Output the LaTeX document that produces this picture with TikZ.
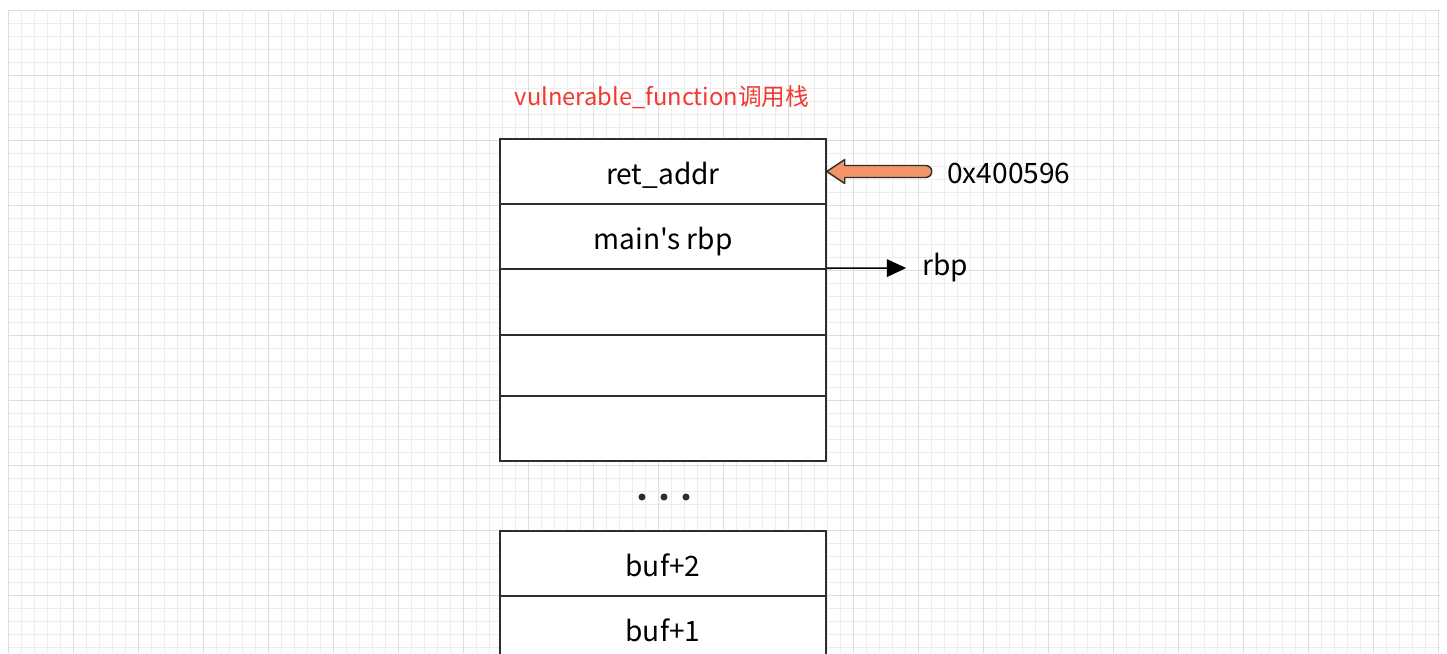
\documentclass[tikz,border=0pt]{standalone}
\usepackage{fontspec}
\setmainfont{Noto Sans CJK SC}[Ligatures=TeXOff]
\usepackage{tikz}
\usetikzlibrary{arrows.meta}

\definecolor{titlered}{RGB}{240,58,48}
\definecolor{fatorange}{RGB}{242,148,105}
\definecolor{framegray}{RGB}{45,45,45}
\definecolor{minorgrid}{RGB}{237,237,237}
\definecolor{majorgrid}{RGB}{222,222,222}

\tikzset{
	cell/.style={rectangle, draw=framegray, fill=white, line width=0.9pt,
		minimum width=6.52cm, inner sep=0pt, text height=17pt, text depth=1.7pt,
		font=\fontsize{16}{19}\selectfont},
	lbl/.style={anchor=west, inner sep=0pt, font=\fontsize{16}{19}\selectfont},
}

\begin{document}
\begin{tikzpicture}[x=0.02cm, y=-0.02cm]
	\useasboundingbox (0,0) rectangle (1447,653);
	\clip (0,0) rectangle (1447,653);
	% grille de fond
	\foreach \i in {0,...,110} {\draw[minorgrid, line width=0.45pt] (8+13*\i,10) -- (8+13*\i,653);}
	\foreach \j in {0,...,49} {\draw[minorgrid, line width=0.45pt] (8,10+13*\j) -- (1440,10+13*\j);}
	\foreach \i in {0,...,22} {\draw[majorgrid, line width=0.5pt] (8+65*\i,10) -- (8+65*\i,653);}
	\foreach \j in {0,...,9} {\draw[majorgrid, line width=0.5pt] (8,10+65*\j) -- (1440,10+65*\j);}

	% titre
	\node (titre) at (662,97) [text=titlered, font=\fontsize{13.5}{16}\selectfont] {vulnerable\_function调用栈};

	% pile du haut
	\node (c1) at (663,171.5) [cell, minimum height=1.3cm] {ret\_addr};
	\node (c2) at (663,236.5) [cell, minimum height=1.3cm] {main's rbp};
	\node (c3) at (663,302) [cell, minimum height=1.32cm] {};
	\node (c4) at (663,365.5) [cell, minimum height=1.22cm] {};
	\node (c5) at (663,428.5) [cell, minimum height=1.3cm] {};

	% pile du bas
	\node (b2) at (663,563.5) [cell, minimum height=1.3cm] {buf+2};
	\node (b1) at (663,628.5) [cell, minimum height=1.3cm] {buf+1};

	% points de suspension
	\foreach \x in {642,664,686} {\fill[framegray] (\x,497) circle[radius=2pt];}

	% etiquettes a droite
	\node (addr) at (947,173) [lbl] {0x400596};
	\node (rbp) at (922,268) [lbl] {rbp};

	% fleches
	\draw[framegray, line width=0.8pt, fill=fatorange, line join=round]
		(c1.east) -- ++(18,-12) -- ++(0,6) -- ++(81,0)
		arc[start angle=-90, end angle=90, radius=6]
		-- ++(-81,0) -- ++(0,6) -- cycle;
	\draw[black, line width=0.9pt, -{Triangle[length=11pt,width=10pt]}] (c3.north east) -- (rbp.west) [shorten >=9pt];
\end{tikzpicture}
\end{document}
